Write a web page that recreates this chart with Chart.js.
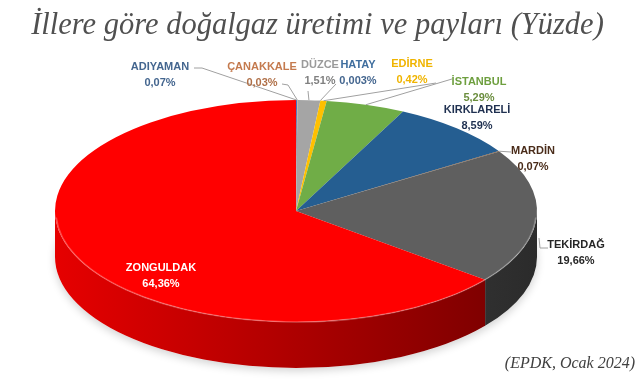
<!DOCTYPE html>
<html>
<head>
<meta charset="utf-8">
<script src="https://cdn.jsdelivr.net/npm/chart.js@4"></script>
<style>
  html, body { margin: 0; padding: 0; background: #fff; }
  canvas { display: block; }
</style>
</head>
<body>
<canvas id="chart" width="641" height="380"></canvas>
<script>
const provinces = ['ADIYAMAN', 'ÇANAKKALE', 'DÜZCE', 'HATAY', 'EDİRNE', 'İSTANBUL', 'KIRKLARELİ', 'MARDİN', 'TEKİRDAĞ', 'ZONGULDAK'];
const shares = [0.07, 0.03, 1.51, 0.003, 0.42, 5.29, 8.59, 0.07, 19.66, 64.36];
const sliceColors = ['#4472C4', '#ED7D31', '#A5A5A5', '#5B9BD5', '#FFC000', '#70AD47', '#255E91', '#7F4F28', '#5F5F5F', '#FF0000'];
const labelColors = ['#44668F', '#C47A4E', '#9A9A9A', '#3F6E9E', '#F0B400', '#6E9F3F', '#1F3050', '#4A2C1A', '#262626', '#FFFFFF'];
const valueColors = ['#44668F', '#B07048', '#808080', '#44668F', '#F0B400', '#6B8E3E', '#1F3050', '#4A2C1A', '#262626', '#FFFFFF'];

// 3D look: where the tilted ellipse sits and how thick it is
const disc = { cx: 296, cy: 211, rx: 241, ry: 111, depth: 46 };

// label text centres and leader lines (layout only)
const labelPos = [[160, 67], [262, 67], [320, 65], [358, 65], [412, 64], [479, 82], [477, 110], [533, 151], [576, 245], [161, 268]];
const leaders = [
  [[194, 68], [202, 68], 'edge'],
  [[282, 84], [288, 85], 'edge'],
  [[308, 91], 'edge'],
  [[336, 84], 'edge'],
  [[436, 83], 'edge'],
  [[452, 79], 'edge'],
  null,
  [[511, 152], 'edge'],
  [[548, 248], [540, 248], [539, 238]],
  null
];

const fmt = v => String(v).replace('.', ',') + '%';

function shade(hex, f) {
  const n = parseInt(hex.slice(1), 16);
  const r = Math.round(((n >> 16) & 255) * f);
  const g = Math.round(((n >> 8) & 255) * f);
  const b = Math.round((n & 255) * f);
  return `rgb(${r},${g},${b})`;
}

const pie3d = {
  id: 'pie3d',
  beforeDatasetsDraw(chart) {
    const ctx = chart.ctx;
    const arcs = chart.getDatasetMeta(0).data;
    const { cx, cy, rx, ry, depth } = disc;

    // soft shadow under the disc
    ctx.save();
    ctx.shadowColor = 'rgba(0,0,0,0.18)';
    ctx.shadowBlur = 8;
    ctx.shadowOffsetY = 3;
    ctx.fillStyle = '#fff';
    ctx.beginPath();
    ctx.ellipse(cx, cy + depth, rx, ry, 0, 0, Math.PI * 2);
    ctx.fill();
    ctx.restore();

    // side walls, only the front half is visible
    arcs.forEach((arc, i) => {
      for (const k of [-2 * Math.PI, 0, 2 * Math.PI]) {
        let lo = Math.max(arc.startAngle, k);
        let hi = Math.min(arc.endAngle, k + Math.PI);
        if (hi <= lo) continue;
        lo -= k; hi -= k;
        const grad = ctx.createLinearGradient(cx - rx, 0, cx + rx, 0);
        grad.addColorStop(0, shade(sliceColors[i], 0.9));
        grad.addColorStop(0.5, shade(sliceColors[i], 0.68));
        grad.addColorStop(1, shade(sliceColors[i], 0.45));
        ctx.fillStyle = grad;
        ctx.beginPath();
        ctx.ellipse(cx, cy, rx, ry, 0, lo, hi);
        ctx.ellipse(cx, cy + depth, rx, ry, 0, hi, lo, true);
        ctx.closePath();
        ctx.fill();
      }
    });

    // squash the library's circle into the top ellipse
    const a = arcs[0];
    ctx.save();
    ctx.translate(cx, cy);
    ctx.scale(rx / a.outerRadius, ry / a.outerRadius);
    ctx.translate(-a.x, -a.y);
  },
  afterDatasetsDraw(chart) {
    const ctx = chart.ctx;
    ctx.restore();
    const arcs = chart.getDatasetMeta(0).data;
    const { cx, cy, rx, ry } = disc;

    // light rim on the front edge
    ctx.save();
    ctx.strokeStyle = 'rgba(255,255,255,0.28)';
    ctx.lineWidth = 1.5;
    ctx.beginPath();
    ctx.ellipse(cx, cy + 1, rx - 1, ry - 1, 0, 0.05, Math.PI - 0.05);
    ctx.stroke();
    ctx.restore();

    // leader lines
    ctx.save();
    ctx.strokeStyle = '#A0A0A0';
    ctx.lineWidth = 1;
    leaders.forEach((pts, i) => {
      if (!pts) return;
      const arc = arcs[i];
      const mid = (arc.startAngle + arc.endAngle) / 2;
      ctx.beginPath();
      pts.forEach((p, j) => {
        const q = p === 'edge' ? [cx + rx * Math.cos(mid), cy + ry * Math.sin(mid)] : p;
        if (j === 0) ctx.moveTo(q[0], q[1]); else ctx.lineTo(q[0], q[1]);
      });
      ctx.stroke();
    });
    ctx.restore();

    // labels
    ctx.save();
    ctx.textAlign = 'center';
    ctx.textBaseline = 'middle';
    ctx.font = 'bold 11px "Liberation Sans", Arial, sans-serif';
    provinces.forEach((name, i) => {
      const [x, y] = labelPos[i];
      ctx.fillStyle = labelColors[i];
      ctx.fillText(name, x, y);
      ctx.fillStyle = valueColors[i];
      ctx.fillText(fmt(shares[i]), x, y + 16);
    });
    ctx.restore();
  }
};

const ctx = document.getElementById('chart').getContext('2d');

const chart = new Chart(ctx, {
  type: 'pie',
  data: {
    labels: provinces,
    datasets: [{
      data: shares,
      backgroundColor: sliceColors,
      borderWidth: 0,
      clip: false
    }]
  },
  options: {
    responsive: false,
    animation: false,
    events: [],
    layout: { padding: { left: 0, right: 6, top: 0, bottom: 0 } },
    plugins: {
      legend: { display: false },
      tooltip: { enabled: false },
      title: {
        display: true,
        text: 'İllere göre doğalgaz üretimi ve payları (Yüzde)',
        color: '#505050',
        font: { family: '"Liberation Serif", serif', style: 'italic', size: 30.5, weight: 'normal' },
        padding: { top: 8, bottom: 4 }
      },
      subtitle: {
        display: true,
        position: 'bottom',
        align: 'end',
        text: '(EPDK, Ocak 2024)',
        color: '#404040',
        font: { family: '"Liberation Serif", serif', style: 'italic', size: 16, weight: 'normal' },
        padding: { top: 0, bottom: 7 }
      }
    }
  },
  plugins: [pie3d]
});
</script>
</body>
</html>
